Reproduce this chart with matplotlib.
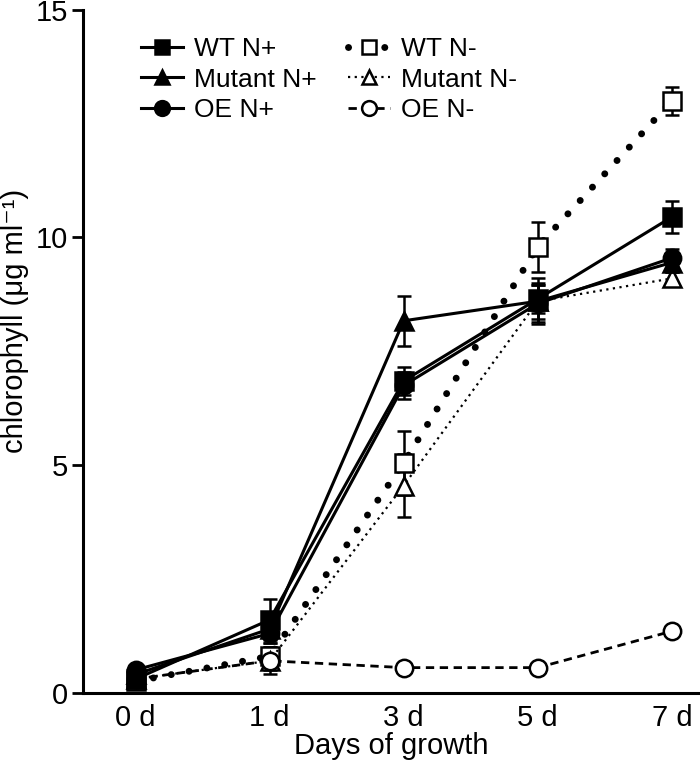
import matplotlib.pyplot as plt
import numpy as np

plt.rcParams['font.family'] = ['Liberation Sans', 'DejaVu Sans']

days = ['0 d', '1 d', '3 d', '5 d', '7 d']

wt_pos = [0.3, 1.6, 6.85, 8.65, 10.45]
wt_pos_err = [0.1, 0.45, 0.3, 0.3, 0.35]
mut_pos = [0.4, 1.4, 8.17, 8.6, 9.45]
mut_pos_err = [0.1, 0.3, 0.55, 0.4, 0.2]
oe_pos = [0.5, 1.3, 6.75, 8.55, 9.55]
oe_pos_err = [0.1, 0.2, 0.3, 0.4, 0.2]
wt_neg = [0.25, 0.8, 5.05, 9.8, 13.0]
wt_neg_err = [0.05, 0.2, 0.7, 0.55, 0.3]
mut_neg = [0.3, 0.7, 4.55, 8.6, 9.1]
mut_neg_err = [0.05, 0.2, 0.7, 0.5, 0.15]
oe_neg = [0.3, 0.7, 0.55, 0.55, 1.35]
oe_neg_err = [0.05, 0.3, 0.1, 0.08, 0.05]

x = np.arange(len(days))

fig = plt.figure(figsize=(7, 7.62), dpi=100)
ax = fig.add_axes([0.119, 0.091, 0.881, 0.896])

common = dict(color='black', ecolor='black', capsize=5, elinewidth=1.8,
              capthick=1.8, markersize=12.5, markeredgewidth=1.8)

ax.errorbar(x, wt_neg, yerr=wt_neg_err, marker='s', mfc='white',
            linestyle=(0, (0.01, 2.6)), dash_capstyle='round', lw=5,
            label='WT N-', zorder=3, **common)
ax.errorbar(x, mut_neg, yerr=mut_neg_err, marker='^', mfc='white',
            linestyle=(0, (1, 2)), lw=1.6, label='Mutant N-', zorder=3, **common)
ax.errorbar(x, oe_neg, yerr=oe_neg_err, marker='o', mfc='white',
            linestyle=(0, (3, 2)), lw=2, label='OE N-', zorder=3, **common)
ax.errorbar(x, wt_pos, yerr=wt_pos_err, marker='s', mfc='black',
            linestyle='-', lw=2.2, label='WT N+', zorder=4, **common)
ax.errorbar(x, mut_pos, yerr=mut_pos_err, marker='^', mfc='black',
            linestyle='-', lw=2.2, label='Mutant N+', zorder=4, **common)
ax.errorbar(x, oe_pos, yerr=oe_pos_err, marker='o', mfc='black',
            linestyle='-', lw=2.2, label='OE N+', zorder=4, **common)

ax.set_xlim(-0.39, 4.21)
ax.set_ylim(0, 15)
ax.set_xticks(x)
ax.set_xticklabels(days)
ax.set_yticks([0, 5, 10, 15])
ax.tick_params(axis='x', length=0, labelsize=21, pad=8)
ax.tick_params(axis='y', length=8, width=2, labelsize=21, pad=3)
ax.spines['top'].set_visible(False)
ax.spines['right'].set_visible(False)
ax.spines['left'].set_linewidth(2.2)
ax.spines['bottom'].set_linewidth(2.2)
ax.set_xlabel('Days of growth', fontsize=21, labelpad=0)
ax.set_ylabel('chlorophyll (\u03bcg ml\u207b\u00b9)', fontsize=21)
ax.yaxis.set_label_coords(-0.088, 0.545)

handles, labels = ax.get_legend_handles_labels()
handles = [h[0] for h in handles]
order = [3, 4, 5, 0, 1, 2]
ax.legend([handles[i] for i in order], [labels[i] for i in order], ncol=2,
          frameon=False, fontsize=19, loc='upper left',
          bbox_to_anchor=(0.055, 0.995), handlelength=1.6, columnspacing=1.2,
          labelspacing=0.25, handletextpad=0.4, markerscale=0.85)

fig.savefig('out.png')
